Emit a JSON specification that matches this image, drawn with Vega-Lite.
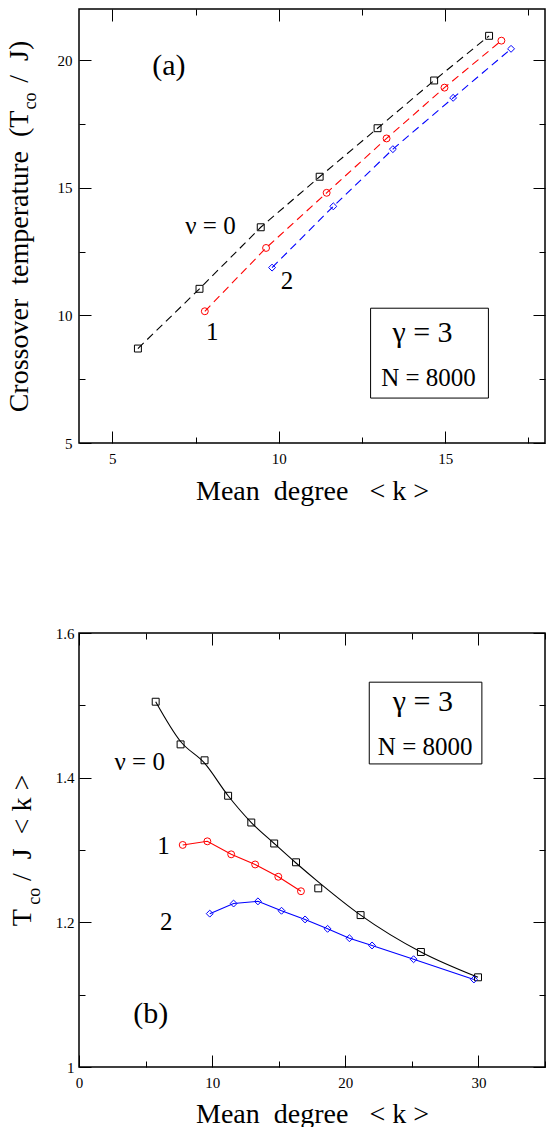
{
  "$schema": "https://vega.github.io/schema/vega-lite/v6.json",
  "padding": {"left": 4, "top": 7, "right": 0, "bottom": 0},
  "config": {
    "font": "Liberation Serif",
    "view": {"stroke": "black", "strokeWidth": 1.5},
    "axis": {"domain": false, "grid": false, "tickColor": "black", "tickWidth": 1, "labelColor": "black", "labelFontSize": 15, "labelFont": "Liberation Serif", "titleFont": "Liberation Serif", "titleFontSize": 28, "titleFontWeight": "normal", "titleColor": "black", "labelFlush": false, "labelOverlap": false},
    "text": {"font": "Liberation Serif", "color": "black"}
  },
  "datasets": {
    "a": [
      {"k": 5.77, "T": 8.70, "s": "0"}, {"k": 7.62, "T": 11.04, "s": "0"}, {"k": 9.46, "T": 13.45, "s": "0"}, {"k": 11.23, "T": 15.43, "s": "0"}, {"k": 12.97, "T": 17.33, "s": "0"}, {"k": 14.67, "T": 19.20, "s": "0"}, {"k": 16.32, "T": 20.95, "s": "0"},
      {"k": 7.78, "T": 10.16, "s": "1"}, {"k": 9.62, "T": 12.64, "s": "1"}, {"k": 11.44, "T": 14.80, "s": "1"}, {"k": 13.24, "T": 16.93, "s": "1"}, {"k": 14.98, "T": 18.92, "s": "1"}, {"k": 16.69, "T": 20.76, "s": "1"},
      {"k": 9.80, "T": 11.87, "s": "2"}, {"k": 11.64, "T": 14.27, "s": "2"}, {"k": 13.43, "T": 16.51, "s": "2"}, {"k": 15.24, "T": 18.52, "s": "2"}, {"k": 16.98, "T": 20.44, "s": "2"}
    ],
    "b": [
      {"k": 5.76, "r": 1.505, "s": "0"}, {"k": 7.63, "r": 1.446, "s": "0"}, {"k": 9.43, "r": 1.424, "s": "0"}, {"k": 11.20, "r": 1.375, "s": "0"}, {"k": 12.94, "r": 1.338, "s": "0"}, {"k": 14.66, "r": 1.309, "s": "0"}, {"k": 16.30, "r": 1.283, "s": "0"}, {"k": 17.97, "r": 1.247, "s": "0"}, {"k": 21.15, "r": 1.210, "s": "0"}, {"k": 25.68, "r": 1.159, "s": "0"}, {"k": 29.97, "r": 1.124, "s": "0"},
      {"k": 7.79, "r": 1.307, "s": "1"}, {"k": 9.64, "r": 1.312, "s": "1"}, {"k": 11.43, "r": 1.294, "s": "1"}, {"k": 13.23, "r": 1.280, "s": "1"}, {"k": 14.97, "r": 1.263, "s": "1"}, {"k": 16.67, "r": 1.243, "s": "1"},
      {"k": 9.82, "r": 1.212, "s": "2"}, {"k": 11.61, "r": 1.226, "s": "2"}, {"k": 13.44, "r": 1.229, "s": "2"}, {"k": 15.21, "r": 1.216, "s": "2"}, {"k": 16.98, "r": 1.204, "s": "2"}, {"k": 18.67, "r": 1.191, "s": "2"}, {"k": 20.31, "r": 1.178, "s": "2"}, {"k": 22.01, "r": 1.168, "s": "2"}, {"k": 25.13, "r": 1.149, "s": "2"}, {"k": 29.66, "r": 1.121, "s": "2"}
    ],
    "bfit": [
      {"k": 5.76, "r": 1.505}, {"k": 7.63, "r": 1.450}, {"k": 9.43, "r": 1.420}, {"k": 11.20, "r": 1.375}, {"k": 12.94, "r": 1.338}, {"k": 14.66, "r": 1.309}, {"k": 16.30, "r": 1.282}, {"k": 17.97, "r": 1.256}, {"k": 21.15, "r": 1.210}, {"k": 25.68, "r": 1.159}, {"k": 29.97, "r": 1.124}
    ],
    "atext": [
      {"x": 6.7, "y": 19.75, "t": "(a)", "g": "big"},
      {"x": 14.32, "y": 9.32, "t": "γ = 3", "g": "big"},
      {"x": 7.95, "y": 13.49, "t": "ν = 0", "g": "mid"},
      {"x": 8.0, "y": 9.35, "t": "1", "g": "mid"},
      {"x": 10.25, "y": 11.34, "t": "2", "g": "mid"},
      {"x": 14.5, "y": 7.56, "t": "N = 8000", "g": "mid"}
    ],
    "btext": [
      {"x": 5.39, "y": 1.073, "t": "(b)", "g": "big"},
      {"x": 25.83, "y": 1.504, "t": "γ = 3", "g": "big"},
      {"x": 4.56, "y": 1.422, "t": "ν = 0", "g": "mid"},
      {"x": 6.35, "y": 1.306, "t": "1", "g": "mid"},
      {"x": 6.56, "y": 1.200, "t": "2", "g": "mid"},
      {"x": 26.0, "y": 1.443, "t": "N = 8000", "g": "mid"}
    ],
    "abox": [{"x": 12.76, "x2": 16.30, "y": 6.76, "y2": 10.28}],
    "bbox": [{"x": 21.80, "x2": 30.26, "y": 1.419, "y2": 1.532}],
    "asub": [{"x": 2.57, "y": 18.40, "t": "co"}],
    "bsub": [{"x": -3.3, "y": 1.236, "t": "co"}]
  },
  "columns": 1,
  "align": "none",
  "spacing": 119,
  "concat": [
    {
      "width": 466,
      "height": 434,
      "resolve": {"axis": {"x": "independent", "y": "independent"}},
      "layer": [
        {
          "data": {"name": "a"},
          "mark": {"type": "line", "strokeDash": [8, 5], "strokeWidth": 1.1},
          "encoding": {
            "x": {"field": "k", "type": "quantitative", "scale": {"domain": [4, 18], "nice": false, "zero": false},
              "axis": {"orient": "bottom", "values": [5, 7.5, 10, 12.5, 15, 17.5], "labelExpr": "datum.value % 5 == 0 ? '' + datum.value : ''", "tickSize": {"condition": {"test": "datum.value % 5 == 0", "value": -12}, "value": -6}, "labelPadding": 20, "title": "Mean\u00a0\u00a0degree\u00a0\u00a0\u00a0<\u00a0k\u00a0>", "titlePadding": 5}},
            "y": {"field": "T", "type": "quantitative", "scale": {"domain": [5, 22], "nice": false, "zero": false},
              "axis": {"orient": "left", "values": [5, 7.5, 10, 12.5, 15, 17.5, 20], "labelExpr": "datum.value % 5 == 0 ? '' + datum.value : ''", "tickSize": {"condition": {"test": "datum.value % 5 == 0", "value": -12}, "value": -6}, "labelPadding": 19, "title": "Crossover\u00a0\u00a0temperature\u00a0\u00a0(T\u00a0\u00a0\u00a0\u00a0/\u00a0\u00a0J)", "titlePadding": 24}},
            "color": {"field": "s", "type": "nominal", "scale": {"domain": ["0", "1", "2"], "range": ["#000000", "#ff0000", "#0000ff"]}, "legend": null},
            "order": {"field": "k", "type": "quantitative"}
          }
        },
        {
          "data": {"name": "a"},
          "mark": {"type": "point", "filled": false, "size": 48, "strokeWidth": 1, "opacity": 1},
          "encoding": {
            "x": {"field": "k", "type": "quantitative", "axis": null},
            "y": {"field": "T", "type": "quantitative", "axis": null},
            "color": {"field": "s", "type": "nominal", "legend": null},
            "shape": {"field": "s", "type": "nominal", "scale": {"domain": ["0", "1", "2"], "range": ["square", "circle", "diamond"]}, "legend": null}
          }
        },
        {
          "data": {"name": "abox"},
          "mark": {"type": "rect", "fill": null, "stroke": "black", "strokeWidth": 1},
          "encoding": {
            "x": {"field": "x", "type": "quantitative",
              "axis": {"orient": "top", "values": [5, 7.5, 10, 12.5, 15, 17.5], "labels": false, "tickSize": {"condition": {"test": "datum.value % 5 == 0", "value": -12}, "value": -6}, "title": null}},
            "x2": {"field": "x2"},
            "y": {"field": "y", "type": "quantitative",
              "axis": {"orient": "right", "values": [5, 7.5, 10, 12.5, 15, 17.5, 20], "labels": false, "tickSize": {"condition": {"test": "datum.value % 5 == 0", "value": -12}, "value": -6}, "title": null}},
            "y2": {"field": "y2"}
          }
        },
        {
          "data": {"name": "atext"},
          "transform": [{"filter": "datum.g == 'big'"}],
          "mark": {"type": "text", "fontSize": 30, "align": "center", "baseline": "middle"},
          "encoding": {
            "x": {"field": "x", "type": "quantitative", "axis": null},
            "y": {"field": "y", "type": "quantitative", "axis": null},
            "text": {"field": "t"}
          }
        },
        {
          "data": {"name": "atext"},
          "transform": [{"filter": "datum.g == 'mid'"}],
          "mark": {"type": "text", "fontSize": 25, "align": "center", "baseline": "middle"},
          "encoding": {
            "x": {"field": "x", "type": "quantitative", "axis": null},
            "y": {"field": "y", "type": "quantitative", "axis": null},
            "text": {"field": "t"}
          }
        },
        {
          "data": {"name": "asub"},
          "mark": {"type": "text", "fontSize": 18, "angle": 270, "align": "center", "baseline": "middle"},
          "encoding": {
            "x": {"field": "x", "type": "quantitative", "axis": null},
            "y": {"field": "y", "type": "quantitative", "axis": null},
            "text": {"field": "t"}
          }
        }
      ]
    },
    {
      "width": 466,
      "height": 434,
      "resolve": {"axis": {"x": "independent", "y": "independent"}},
      "layer": [
        {
          "data": {"name": "bfit"},
          "mark": {"type": "line", "strokeWidth": 1.1, "color": "black", "interpolate": "monotone"},
          "encoding": {
            "x": {"field": "k", "type": "quantitative", "scale": {"domain": [0, 35], "nice": false, "zero": false},
              "axis": {"orient": "bottom", "values": [0, 5, 10, 15, 20, 25, 30, 35], "labelExpr": "datum.value % 10 == 0 ? '' + datum.value : ''", "tickSize": {"condition": {"test": "datum.value % 10 == 0", "value": -12}, "value": -6}, "labelPadding": 20, "title": "Mean\u00a0\u00a0degree\u00a0\u00a0\u00a0<\u00a0k\u00a0>", "titlePadding": 4}},
            "y": {"field": "r", "type": "quantitative", "scale": {"domain": [1, 1.6], "nice": false, "zero": false},
              "axis": {"orient": "left", "values": [1, 1.1, 1.2, 1.3, 1.4, 1.5, 1.6], "labelExpr": "round(datum.value * 10) % 2 == 0 ? '' + datum.value : ''", "tickSize": {"condition": {"test": "round(datum.value * 10) % 2 == 0", "value": -12}, "value": -6}, "labelPadding": 17, "title": "T\u00a0\u00a0\u00a0\u00a0/\u00a0\u00a0J\u00a0\u00a0<\u00a0k\u00a0>", "titlePadding": 19}}
          }
        },
        {
          "data": {"name": "b"},
          "transform": [{"filter": "datum.s != '0'"}],
          "mark": {"type": "line", "strokeWidth": 1.1},
          "encoding": {
            "x": {"field": "k", "type": "quantitative", "axis": null},
            "y": {"field": "r", "type": "quantitative", "axis": null},
            "color": {"field": "s", "type": "nominal", "scale": {"domain": ["0", "1", "2"], "range": ["#000000", "#ff0000", "#0000ff"]}, "legend": null},
            "order": {"field": "k", "type": "quantitative"}
          }
        },
        {
          "data": {"name": "b"},
          "mark": {"type": "point", "filled": false, "size": 48, "strokeWidth": 1, "opacity": 1},
          "encoding": {
            "x": {"field": "k", "type": "quantitative", "axis": null},
            "y": {"field": "r", "type": "quantitative", "axis": null},
            "color": {"field": "s", "type": "nominal", "legend": null},
            "shape": {"field": "s", "type": "nominal", "scale": {"domain": ["0", "1", "2"], "range": ["square", "circle", "diamond"]}, "legend": null}
          }
        },
        {
          "data": {"name": "bbox"},
          "mark": {"type": "rect", "fill": null, "stroke": "black", "strokeWidth": 1},
          "encoding": {
            "x": {"field": "x", "type": "quantitative",
              "axis": {"orient": "top", "values": [0, 5, 10, 15, 20, 25, 30, 35], "labels": false, "tickSize": {"condition": {"test": "datum.value % 10 == 0", "value": -12}, "value": -6}, "title": null}},
            "x2": {"field": "x2"},
            "y": {"field": "y", "type": "quantitative",
              "axis": {"orient": "right", "values": [1, 1.1, 1.2, 1.3, 1.4, 1.5, 1.6], "labels": false, "tickSize": {"condition": {"test": "round(datum.value * 10) % 2 == 0", "value": -12}, "value": -6}, "title": null}},
            "y2": {"field": "y2"}
          }
        },
        {
          "data": {"name": "btext"},
          "transform": [{"filter": "datum.g == 'big'"}],
          "mark": {"type": "text", "fontSize": 30, "align": "center", "baseline": "middle"},
          "encoding": {
            "x": {"field": "x", "type": "quantitative", "axis": null},
            "y": {"field": "y", "type": "quantitative", "axis": null},
            "text": {"field": "t"}
          }
        },
        {
          "data": {"name": "btext"},
          "transform": [{"filter": "datum.g == 'mid'"}],
          "mark": {"type": "text", "fontSize": 25, "align": "center", "baseline": "middle"},
          "encoding": {
            "x": {"field": "x", "type": "quantitative", "axis": null},
            "y": {"field": "y", "type": "quantitative", "axis": null},
            "text": {"field": "t"}
          }
        },
        {
          "data": {"name": "bsub"},
          "mark": {"type": "text", "fontSize": 18, "angle": 270, "align": "center", "baseline": "middle"},
          "encoding": {
            "x": {"field": "x", "type": "quantitative", "axis": null},
            "y": {"field": "y", "type": "quantitative", "axis": null},
            "text": {"field": "t"}
          }
        }
      ]
    }
  ]
}
